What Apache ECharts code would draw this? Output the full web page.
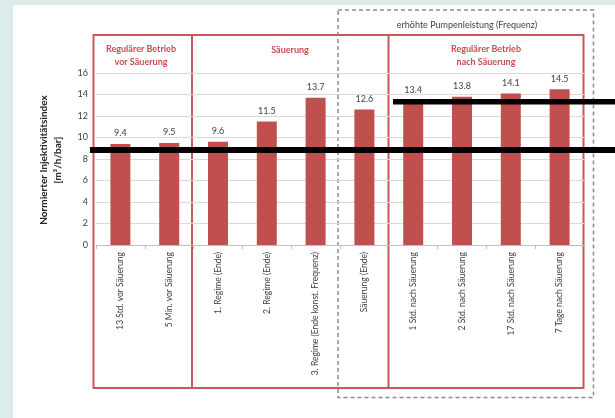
<!DOCTYPE html>
<html>
<head>
<meta charset="utf-8">
<script src="https://cdn.jsdelivr.net/npm/echarts@6/dist/echarts.min.js"></script>
<style>
  html, body { margin: 0; padding: 0; background: #dcebeb; }
  #chart { width: 615px; height: 418px; }
</style>
</head>
<body>
<div id="chart"></div>
<script>
// Injectivity index per stage of the acid treatment
const categories = [
  '13 Std. vor Säuerung',
  '5 Min. vor Säuerung',
  '1. Regime (Ende)',
  '2. Regime (Ende)',
  '3. Regime (Ende konst. Frequenz)',
  'Säuerung (Ende)',
  '1 Std. nach Säuerung',
  '2 Std. nach Säuerung',
  '17 Std. nach Säuerung',
  '7 Tage nach Säuerung'
];
const injectivity = [9.4, 9.5, 9.6, 11.5, 13.7, 12.6, 13.4, 13.8, 14.1, 14.5];
const yTicks = [0, 2, 4, 6, 8, 10, 12, 14, 16];

const FONT = 'Lato, "Open Sans", sans-serif';
const RED = '#c9585c';
const chart = echarts.init(document.getElementById('chart'));

chart.setOption({
  animation: false,
  textStyle: { fontFamily: FONT },
  grid: { left: 96, right: 31, top: 73, bottom: 173 },
  graphic: [
    // white card
    { type: 'rect', z: -10, shape: { x: 13, y: 5, width: 610, height: 420 }, style: { fill: '#ffffff' } },
    // phase boxes
    { type: 'rect', shape: { x: 93.5, y: 35, width: 490, height: 353 }, style: { fill: 'none', stroke: RED, lineWidth: 2 } },
    { type: 'line', shape: { x1: 192, y1: 35, x2: 192, y2: 388 }, style: { stroke: RED, lineWidth: 2 } },
    { type: 'line', shape: { x1: 388.5, y1: 35, x2: 388.5, y2: 388 }, style: { stroke: RED, lineWidth: 2 } },
    // increased pump frequency period
    { type: 'rect', shape: { x: 338, y: 10, width: 255.5, height: 387.5 }, style: { fill: 'none', stroke: '#8c8c8c', lineWidth: 1.5, lineDash: [4, 3] } },
    { type: 'text', x: 467, y: 25, style: { text: 'erhöhte Pumpenleistung (Frequenz)', fill: '#404040', font: '9px ' + FONT, align: 'center', verticalAlign: 'middle' } },
    { type: 'text', x: 141, y: 56, style: { text: 'Regulärer Betrieb\nvor Säuerung', fill: '#c0504d', font: 'bold 9px ' + FONT, align: 'center', verticalAlign: 'middle', lineHeight: 13 } },
    { type: 'text', x: 290, y: 50, style: { text: 'Säuerung', fill: '#c0504d', font: 'bold 9px ' + FONT, align: 'center', verticalAlign: 'middle' } },
    { type: 'text', x: 486, y: 56, style: { text: 'Regulärer Betrieb\nnach Säuerung', fill: '#c0504d', font: 'bold 9px ' + FONT, align: 'center', verticalAlign: 'middle', lineHeight: 13 } },
    // axis title
    { type: 'text', x: 51, y: 160, rotation: Math.PI / 2, style: { text: 'Normierter Injektivitätsindex\n[m³/h/bar]', fill: '#262626', font: 'bold 10px ' + FONT, align: 'center', verticalAlign: 'middle', lineHeight: 14 } },
    // highlight strokes
    { type: 'rect', z: 100, shape: { x: 90, y: 147, width: 530, height: 6 }, style: { fill: '#000000' } },
    { type: 'rect', z: 100, shape: { x: 393, y: 99, width: 230, height: 5.5 }, style: { fill: '#000000' } }
  ],
  xAxis: {
    type: 'category',
    data: categories,
    axisLine: { lineStyle: { color: '#bfbfbf' } },
    axisTick: { show: true, length: 4, lineStyle: { color: '#bfbfbf' } },
    axisLabel: { rotate: 90, interval: 0, color: '#404040', fontSize: 8.5, margin: 7 }
  },
  yAxis: {
    type: 'value',
    min: yTicks[0],
    max: yTicks[yTicks.length - 1],
    interval: 2,
    axisLine: { show: false },
    axisTick: { show: false },
    axisLabel: { color: '#404040', fontSize: 9, margin: 8 },
    splitLine: { lineStyle: { color: '#d9d9d9' } }
  },
  series: [{
    type: 'bar',
    data: injectivity,
    barWidth: 20,
    itemStyle: { color: '#c0504d' },
    label: { show: true, position: 'top', color: '#404040', fontSize: 9, distance: 6 }
  }]
});
</script>
</body>
</html>
